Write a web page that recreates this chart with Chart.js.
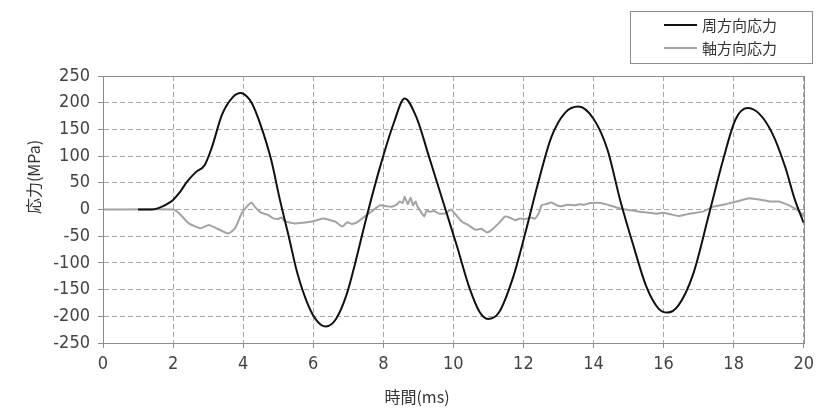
<!DOCTYPE html>
<html>
<head>
<meta charset="utf-8">
<script src="https://cdn.jsdelivr.net/npm/chart.js@4/dist/chart.umd.min.js"></script>
<style>
  body { margin: 0; background: #fff; }
  canvas { display: block; }
</style>
</head>
<body>
<canvas id="stressChart" width="820" height="410"></canvas>
<script>
// series labels
const seriesNames = ['周方向応力', '軸方向応力'];

// 周方向応力 (hoop stress), time in ms / MPa
const hoopT = [0, 1.0, 1.4, 1.6, 1.8, 2.0, 2.2, 2.4, 2.65, 2.9, 3.1, 3.4, 3.7, 3.93, 4.1, 4.25, 4.5, 4.8, 5.05, 5.3, 5.55, 5.85, 6.1, 6.36, 6.65, 6.95, 7.2, 7.5, 7.9, 8.3, 8.61, 8.95, 9.3, 9.7, 10.1, 10.45, 10.75, 10.99, 11.3, 11.7, 12.05, 12.4, 12.8, 13.2, 13.57, 14.0, 14.4, 14.76, 15.15, 15.5, 15.85, 16.11, 16.42, 16.85, 17.3, 17.7, 18.05, 18.39, 18.72, 19.1, 19.47, 19.75, 20.0];
const hoopV = [null, 0, 0, 3, 9, 18, 33, 52, 70, 83, 115, 178, 210, 218, 212, 199, 158, 93, 18, -50, -120, -178, -208, -219, -205, -160, -100, -20, 78, 162, 208, 172, 100, 16, -68, -145, -192, -205, -193, -128, -45, 45, 136, 182, 193, 170, 112, 18, -70, -143, -185, -193, -180, -120, -8, 93, 168, 190, 180, 143, 80, 18, -25];

// 軸方向応力 (axial stress)
const axialT = [0, 2.0, 2.17, 2.45, 2.78, 3.02, 3.3, 3.58, 3.77, 3.96, 4.1, 4.24, 4.35, 4.47, 4.6, 4.71, 4.85, 4.99, 5.1, 5.18, 5.3, 5.46, 5.7, 5.93, 6.1, 6.3, 6.5, 6.64, 6.83, 6.97, 7.1, 7.25, 7.53, 7.7, 7.91, 8.1, 8.24, 8.4, 8.47, 8.55, 8.61, 8.7, 8.78, 8.85, 8.92, 8.98, 9.08, 9.17, 9.24, 9.31, 9.45, 9.6, 9.79, 9.93, 10.1, 10.25, 10.45, 10.63, 10.8, 10.96, 11.1, 11.29, 11.48, 11.6, 11.76, 11.9, 12.05, 12.2, 12.33, 12.45, 12.52, 12.65, 12.8, 12.95, 13.08, 13.25, 13.46, 13.6, 13.74, 13.9, 14.21, 14.5, 14.76, 15.0, 15.32, 15.6, 15.79, 15.99, 16.2, 16.42, 16.6, 16.74, 17.12, 17.4, 17.7, 17.97, 18.2, 18.44, 18.81, 19.05, 19.28, 19.5, 19.66, 19.85, 20.0];
const axialV = [0, 0, -7, -26, -35, -29, -37, -45, -35, -7, 5, 13, 4, -4, -8, -10, -16, -18, -15, -22, -24, -26, -25, -23, -20, -17, -20, -23, -32, -24, -27, -24, -10, -2, 8, 6, 5, 10, 15, 12, 24, 10, 22, 8, 15, 5, -5, -13, -2, -4, -3, -8, -7, 0, -12, -23, -30, -38, -36, -43, -38, -26, -13, -15, -20, -17, -18, -15, -17, -5, 8, 10, 13, 8, 6, 9, 8, 10, 9, 12, 12, 7, 2, -1, -4, -6, -8, -6, -9, -12, -10, -8, -4, 5, 9, 13, 17, 21, 18, 15, 15, 10, 5, -2, -12];

// axes
const xTicks = [0, 2, 4, 6, 8, 10, 12, 14, 16, 18, 20];
const yTicks = [-250, -200, -150, -100, -50, 0, 50, 100, 150, 200, 250];
const xTitle = '時間(ms)';
const yTitle = '応力(MPa)';

const toPoints = (ts, vs) => ts.map((t, i) => ({ x: t, y: vs[i] })).filter(p => p.y !== null);

const numFont = { family: "'Liberation Sans Narrow', 'DejaVu Sans Condensed', sans-serif", size: 18 };
const jpFont = "'Noto Sans CJK JP', sans-serif";
const gridColor = '#a8a8a8';
const frameColor = '#8c8c8c';

const ctx = document.getElementById('stressChart').getContext('2d');

new Chart(ctx, {
  type: 'line',
  data: {
    datasets: [
      {
        label: seriesNames[0],
        data: toPoints(hoopT, hoopV),
        borderColor: '#111',
        borderWidth: 2,
        pointRadius: 0,
        cubicInterpolationMode: 'monotone'
      },
      {
        label: seriesNames[1],
        data: toPoints(axialT, axialV),
        borderColor: '#a3a3a3',
        borderWidth: 2,
        pointRadius: 0,
        tension: 0.15
      }
    ]
  },
  options: {
    responsive: false,
    animation: false,
    devicePixelRatio: 1,
    layout: { padding: { top: 76, right: 8, left: 0, bottom: 0 } },
    scales: {
      x: {
        type: 'linear',
        min: 0,
        max: 20,
        afterBuildTicks: axis => { axis.ticks = xTicks.map(v => ({ value: v })); },
        afterFit: axis => { axis.height = 67; },
        ticks: { font: numFont, color: '#444', padding: 6, maxRotation: 0 },
        grid: { color: gridColor, tickColor: frameColor, tickLength: 5 },
        border: { color: frameColor, dash: [5, 3] }
      },
      y: {
        min: -250,
        max: 250,
        afterBuildTicks: axis => { axis.ticks = yTicks.map(v => ({ value: v })); },
        afterFit: axis => { axis.width = 103; },
        ticks: { font: numFont, color: '#444', padding: 8 },
        grid: { color: gridColor, tickColor: frameColor, tickLength: 5 },
        border: { color: frameColor, dash: [5, 3] }
      }
    },
    plugins: {
      legend: { display: false },
      tooltip: { enabled: false }
    }
  },
  plugins: [{
    id: 'frameTitlesLegend',
    afterDraw(chart) {
      const c = chart.ctx;
      const a = chart.chartArea;
      c.save();
      // plot frame
      c.strokeStyle = frameColor;
      c.lineWidth = 1;
      c.strokeRect(Math.round(a.left) + 0.5, Math.round(a.top) + 0.5, Math.round(a.right - a.left), Math.round(a.bottom - a.top));

      // axis titles
      c.fillStyle = '#333';
      c.font = `16px ${jpFont}`;
      c.textAlign = 'center';
      c.textBaseline = 'middle';
      c.fillText(xTitle, 417, 397);
      c.save();
      c.translate(34, 177);
      c.rotate(-Math.PI / 2);
      c.fillText(yTitle, 0, 0);
      c.restore();

      // legend box
      c.strokeStyle = frameColor;
      c.strokeRect(630.5, 11.5, 182, 52);
      c.font = `15px ${jpFont}`;
      c.textAlign = 'left';
      chart.data.datasets.forEach((ds, i) => {
        const y = 25 + i * 23;
        c.strokeStyle = ds.borderColor;
        c.lineWidth = ds.borderWidth;
        c.beginPath();
        c.moveTo(664, y);
        c.lineTo(697, y);
        c.stroke();
        c.fillStyle = '#333';
        c.fillText(ds.label, 702, y);
      });
      c.restore();
    }
  }]
});
</script>
</body>
</html>
